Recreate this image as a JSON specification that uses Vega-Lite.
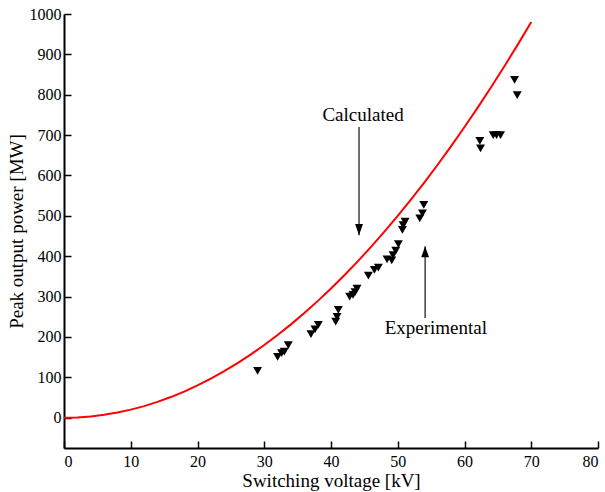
{
  "$schema": "https://vega.github.io/schema/vega-lite/v6.json",
  "width": 534,
  "height": 434,
  "autosize": "none",
  "padding": {"left": 64, "top": 14, "right": 7, "bottom": 44},
  "background": "white",
  "config": {
    "view": {"stroke": null},
    "font": "Liberation Serif",
    "axis": {
      "grid": false,
      "domainColor": "black",
      "domainWidth": 2,
      "tickColor": "black",
      "tickWidth": 1.5,
      "labelFont": "Liberation Serif",
      "labelFontSize": 16,
      "labelColor": "black",
      "titleFont": "Liberation Serif",
      "titleFontSize": 19,
      "titleFontWeight": "normal",
      "titleColor": "black"
    }
  },
  "datasets": {
    "curve": [
      {"v": 0, "p": 0}, {"v": 2, "p": 0.8}, {"v": 4, "p": 3.2}, {"v": 6, "p": 7.2}, {"v": 8, "p": 12.8},
      {"v": 10, "p": 20}, {"v": 12, "p": 28.8}, {"v": 14, "p": 39.2}, {"v": 16, "p": 51.2}, {"v": 18, "p": 64.8},
      {"v": 20, "p": 80}, {"v": 22, "p": 96.8}, {"v": 24, "p": 115.2}, {"v": 26, "p": 135.2}, {"v": 28, "p": 156.8},
      {"v": 30, "p": 180}, {"v": 32, "p": 204.8}, {"v": 34, "p": 231.2}, {"v": 36, "p": 259.2}, {"v": 38, "p": 288.8},
      {"v": 40, "p": 320}, {"v": 42, "p": 352.8}, {"v": 44, "p": 387.2}, {"v": 46, "p": 423.2}, {"v": 48, "p": 460.8},
      {"v": 50, "p": 500}, {"v": 52, "p": 540.8}, {"v": 54, "p": 583.2}, {"v": 56, "p": 627.2}, {"v": 58, "p": 672.8},
      {"v": 60, "p": 720}, {"v": 62, "p": 768.8}, {"v": 64, "p": 819.2}, {"v": 66, "p": 871.2}, {"v": 68, "p": 924.8},
      {"v": 70, "p": 980}
    ],
    "points": [
      {"v": 29.0, "p": 116},
      {"v": 32.0, "p": 151}, {"v": 32.6, "p": 160}, {"v": 33.0, "p": 164}, {"v": 33.6, "p": 180},
      {"v": 37.0, "p": 207}, {"v": 37.6, "p": 219}, {"v": 38.1, "p": 230},
      {"v": 40.7, "p": 238}, {"v": 40.9, "p": 250}, {"v": 41.1, "p": 267},
      {"v": 42.8, "p": 300}, {"v": 43.3, "p": 304}, {"v": 43.6, "p": 311}, {"v": 43.9, "p": 320},
      {"v": 45.6, "p": 352}, {"v": 46.5, "p": 366}, {"v": 47.1, "p": 372},
      {"v": 48.4, "p": 392}, {"v": 49.1, "p": 390}, {"v": 49.3, "p": 403}, {"v": 49.7, "p": 414}, {"v": 50.1, "p": 430},
      {"v": 50.7, "p": 465}, {"v": 50.8, "p": 477}, {"v": 51.1, "p": 486},
      {"v": 53.3, "p": 494}, {"v": 53.7, "p": 506}, {"v": 53.9, "p": 527},
      {"v": 62.3, "p": 686}, {"v": 62.4, "p": 667},
      {"v": 64.3, "p": 700}, {"v": 64.8, "p": 700}, {"v": 65.4, "p": 700},
      {"v": 67.5, "p": 837}, {"v": 67.9, "p": 799}
    ],
    "arrows": [
      {"v": 44.2, "p1": 720, "p2": 452},
      {"v": 54.1, "p1": 247, "p2": 425}
    ],
    "labels": [
      {"v": 44.8, "p": 750, "t": "Calculated"},
      {"v": 55.7, "p": 222, "t": "Experimental"}
    ]
  },
  "layer": [
    {
      "data": {"name": "curve"},
      "mark": {"type": "line", "color": "#ff0000", "strokeWidth": 2},
      "encoding": {
        "x": {
          "field": "v", "type": "quantitative",
          "scale": {"domain": [0, 80], "nice": false, "zero": false},
          "axis": {
            "title": "Switching voltage [kV]",
            "values": [0, 5, 10, 15, 20, 25, 30, 35, 40, 45, 50, 55, 60, 65, 70, 75, 80],
            "labelExpr": "datum.value % 10 === 0 ? '' + datum.value : ''",
            "labelOverlap": false,
            "tickSize": {"condition": {"test": "datum.value % 10 === 0", "value": -7}, "value": -5},
            "labelPadding": 12,
            "titlePadding": 2
          }
        },
        "y": {
          "field": "p", "type": "quantitative",
          "scale": {"domain": [-75, 1000], "nice": false, "zero": false},
          "axis": {
            "title": "Peak output power [MW]",
            "values": [0, 100, 200, 300, 400, 500, 600, 700, 800, 900, 1000],
            "format": "d",
            "tickSize": -7,
            "labelPadding": 10,
            "titlePadding": 3
          }
        }
      }
    },
    {
      "data": {"name": "points"},
      "mark": {"type": "point", "shape": "triangle-down", "filled": true, "color": "black", "opacity": 1, "size": 80},
      "encoding": {
        "x": {"field": "v", "type": "quantitative"},
        "y": {"field": "p", "type": "quantitative"}
      }
    },
    {
      "data": {"name": "arrows"},
      "mark": {"type": "rule", "color": "#222222", "strokeWidth": 1.3},
      "encoding": {
        "x": {"field": "v", "type": "quantitative"},
        "y": {"field": "p1", "type": "quantitative"},
        "y2": {"field": "p2"}
      }
    },
    {
      "data": {"name": "arrows"},
      "transform": [{"filter": "datum.p1 > datum.p2"}],
      "mark": {"type": "point", "shape": "M-0.35,-1L0.35,-1L0,0Z", "filled": true, "color": "black", "opacity": 1, "size": 500},
      "encoding": {
        "x": {"field": "v", "type": "quantitative"},
        "y": {"field": "p2", "type": "quantitative"}
      }
    },
    {
      "data": {"name": "arrows"},
      "transform": [{"filter": "datum.p1 < datum.p2"}],
      "mark": {"type": "point", "shape": "M-0.35,1L0.35,1L0,0Z", "filled": true, "color": "black", "opacity": 1, "size": 500},
      "encoding": {
        "x": {"field": "v", "type": "quantitative"},
        "y": {"field": "p2", "type": "quantitative"}
      }
    },
    {
      "data": {"name": "labels"},
      "mark": {"type": "text", "font": "Liberation Serif", "fontSize": 19, "color": "black", "align": "center", "baseline": "middle"},
      "encoding": {
        "x": {"field": "v", "type": "quantitative"},
        "y": {"field": "p", "type": "quantitative"},
        "text": {"field": "t"}
      }
    }
  ]
}
